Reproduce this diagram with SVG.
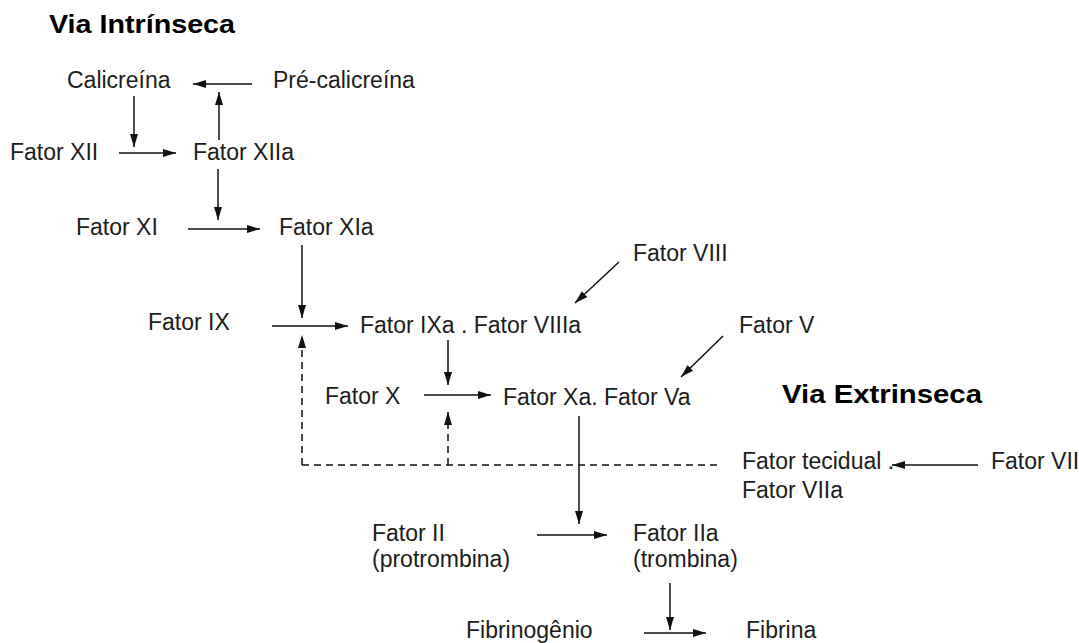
<svg xmlns="http://www.w3.org/2000/svg" width="1079" height="643" viewBox="0 0 1079 643">
  <style>
    .t { font-family: "Liberation Sans", Arial, sans-serif; font-size: 23px; fill: #1c1c1c; }
    .h { font-family: "Liberation Sans", Arial, sans-serif; font-size: 26px; font-weight: bold; fill: #000; }
    .c { stroke: #111; stroke-width: 1.5; fill: none; marker-end: url(#arr); }
    .d { stroke: #111; stroke-width: 1.5; fill: none; stroke-dasharray: 7 5; }
    .da { marker-end: url(#arr); }
  </style>
  <defs>
    <marker id="arr" markerUnits="userSpaceOnUse" viewBox="0 0 13 8" refX="13" refY="4" markerWidth="13" markerHeight="8" orient="auto">
      <path d="M0,0 L13,4 L0,8 z" fill="#111"/>
    </marker>
  </defs>
  <rect width="1079" height="643" fill="#fff"/>

  <g id="title-intrinseca"><text class="h" x="49" y="33" textLength="186" lengthAdjust="spacingAndGlyphs">Via Intrínseca</text></g>
  <g id="title-extrinseca"><text class="h" x="782" y="403" textLength="200" lengthAdjust="spacingAndGlyphs">Via Extrinseca</text></g>

  <g id="calicreina"><text class="t" x="67" y="88">Calicreína</text></g>
  <g id="pre-calicreina"><text class="t" x="273" y="88">Pré-calicreína</text></g>
  <g id="fator-xii"><text class="t" x="10" y="160">Fator XII</text></g>
  <g id="fator-xiia"><text class="t" x="193" y="160">Fator XIIa</text></g>
  <g id="fator-xi"><text class="t" x="76" y="235">Fator XI</text></g>
  <g id="fator-xia"><text class="t" x="279" y="235">Fator XIa</text></g>
  <g id="fator-viii"><text class="t" x="633" y="261">Fator VIII</text></g>
  <g id="fator-ix"><text class="t" x="148" y="330">Fator IX</text></g>
  <g id="fator-ixa-viiia"><text class="t" x="360" y="333">Fator IXa . Fator VIIIa</text></g>
  <g id="fator-v"><text class="t" x="739" y="333">Fator V</text></g>
  <g id="fator-x"><text class="t" x="325" y="404">Fator X</text></g>
  <g id="fator-xa-va"><text class="t" x="503" y="405">Fator Xa. Fator Va</text></g>
  <g id="fator-tecidual-viia">
    <text class="t" x="742" y="469">Fator tecidual .<tspan x="742" dy="29">Fator VIIa</tspan></text>
  </g>
  <g id="fator-vii"><text class="t" x="991" y="469">Fator VII</text></g>
  <g id="fator-ii">
    <text class="t" x="372" y="541">Fator II<tspan x="372" dy="26">(protrombina)</tspan></text>
  </g>
  <g id="fator-iia">
    <text class="t" x="633" y="541">Fator IIa<tspan x="633" dy="26">(trombina)</tspan></text>
  </g>
  <g id="fibrinogenio"><text class="t" x="466" y="638">Fibrinogênio</text></g>
  <g id="fibrina"><text class="t" x="746" y="638">Fibrina</text></g>

  <g id="connectors">
    <line class="c" x1="252" y1="84" x2="193" y2="84"/>
    <line class="c" x1="219" y1="140" x2="219" y2="92"/>
    <line class="c" x1="134" y1="96" x2="134" y2="147"/>
    <line class="c" x1="119" y1="153" x2="176" y2="153"/>
    <line class="c" x1="218" y1="169" x2="218" y2="220"/>
    <line class="c" x1="188" y1="229" x2="260" y2="229"/>
    <line class="c" x1="302" y1="245" x2="302" y2="318"/>
    <line class="c" x1="272" y1="326" x2="348" y2="326"/>
    <line class="c" x1="619" y1="262" x2="575" y2="303"/>
    <line class="c" x1="448" y1="340" x2="448" y2="385"/>
    <line class="c" x1="424" y1="395" x2="491" y2="395"/>
    <line class="c" x1="723" y1="336" x2="681" y2="377"/>
    <line class="d da" x1="302" y1="465" x2="302" y2="335"/>
    <line class="d da" x1="448" y1="465" x2="448" y2="412"/>
    <line class="d" x1="302" y1="465" x2="718" y2="465"/>
    <line class="c" x1="978" y1="465" x2="892" y2="465"/>
    <line class="c" x1="579" y1="416" x2="579" y2="524"/>
    <line class="c" x1="537" y1="535" x2="607" y2="535"/>
    <line class="c" x1="670" y1="583" x2="670" y2="630"/>
    <line class="c" x1="644" y1="633" x2="706" y2="633"/>
  </g>
</svg>
